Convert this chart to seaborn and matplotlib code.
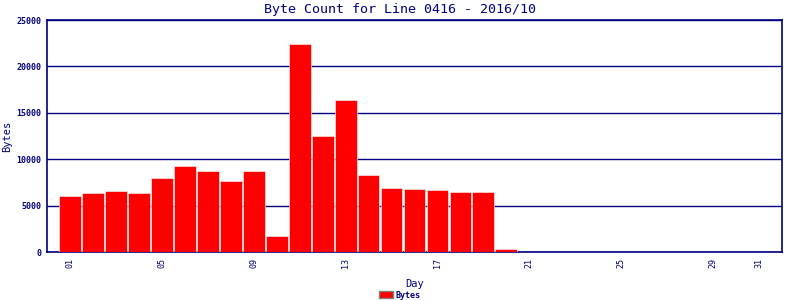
import matplotlib
matplotlib.use("Agg")
import matplotlib.pyplot as plt
import seaborn as sns
import pandas as pd
from matplotlib.patches import Patch

days = list(range(1, 32))
bytes_vals = [6050, 6360, 6570, 6360, 7970, 9270, 8730, 7650, 8730, 1720,
              22410, 12500, 16380, 8300, 6900, 6790, 6680, 6470, 6470, 320,
              0, 0, 0, 0, 0, 0, 0, 0, 0, 0, 0]
tick_days = [1, 5, 9, 13, 17, 21, 25, 29, 31]
tick_labels = ["01", "05", "09", "13", "17", "21", "25", "29", "31"]
y_ticks = [0, 5000, 10000, 15000, 20000, 25000]

df = pd.DataFrame({"Day": days, "Bytes": bytes_vals})

sns.set_style("white")
plt.rcParams["font.family"] = ["DejaVu Sans Mono", "DejaVu Sans"]
navy = "#000080"

fig = plt.figure(figsize=(8, 3), dpi=100)
ax = fig.add_axes([47 / 800, 1 - 252 / 300, (782 - 47) / 800, (252 - 20) / 300])

sns.barplot(data=df, x="Day", y="Bytes", native_scale=True, color="#ff0000",
            saturation=1, width=0.95, edgecolor="white", linewidth=0.4, ax=ax, zorder=3)

ax.set_xlim(0, 32)
ax.set_ylim(0, 25000)
ax.set_yticks(y_ticks)
ax.set_yticklabels([str(v) for v in y_ticks], fontsize=6, fontweight="bold", color=navy)
ax.set_xticks(tick_days)
ax.set_xticklabels(tick_labels, rotation=90, fontsize=6, color=navy)
ax.tick_params(axis="both", length=0, pad=4)
ax.yaxis.grid(True, color=navy, linewidth=1, zorder=0)
ax.set_axisbelow(True)
for s in ax.spines.values():
    s.set_color(navy)
    s.set_linewidth(1.2)
    s.set_visible(True)

ax.set_xlabel("Day", fontsize=7.5, color=navy, labelpad=8)
ax.set_ylabel("Bytes", fontsize=7.5, color=navy, labelpad=3)
fig.text(0.5, 1 - 9 / 300, "Byte Count for Line 0416 - 2016/10", ha="center", va="center",
         fontsize=9.6, color=navy)

handles = [Patch(facecolor="#ff0000", edgecolor="#808080", linewidth=1, label="Bytes")]
fig.legend(handles=handles, loc="center", bbox_to_anchor=(0.5, 1 - 295 / 300), frameon=False,
           prop={"size": 6, "weight": "bold", "family": "DejaVu Sans Mono"},
           labelcolor=navy, handlelength=1.6, handleheight=1.0, handletextpad=0.4,
           borderpad=0, borderaxespad=0)

fig.savefig("out.png", dpi=100)
